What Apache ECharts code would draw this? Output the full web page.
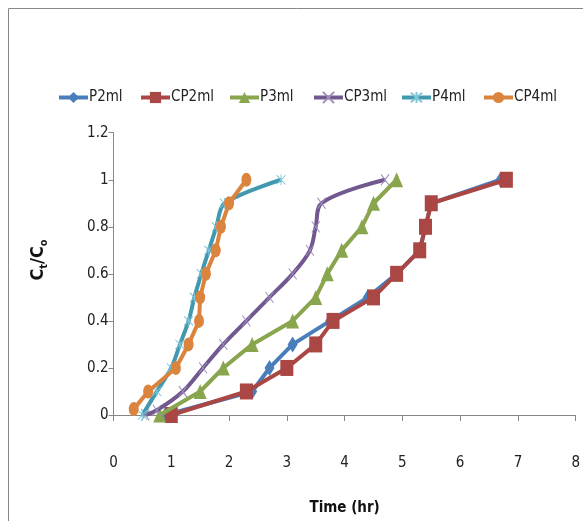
<!DOCTYPE html>
<html>
<head>
<meta charset="utf-8">
<script src="https://cdn.jsdelivr.net/npm/echarts@6/dist/echarts.min.js"></script>
<style>
html,body{margin:0;padding:0;background:#fff;}
#chart{width:583px;height:521px;}
</style>
</head>
<body>
<div id="chart"></div>
<script>
var seriesNames = ['P2ml', 'CP2ml', 'P3ml', 'CP3ml', 'P4ml', 'CP4ml'];
var xTicks = [0, 1, 2, 3, 4, 5, 6, 7, 8];
var yTicks = [0, 0.2, 0.4, 0.6, 0.8, 1, 1.2];

var p2mlX  = [0.9, 2.4, 2.7, 3.1, 3.75, 4.4, 4.9, 5.3, 5.4, 5.5, 6.7];
var p2mlY  = [0, 0.1, 0.2, 0.3, 0.4, 0.5, 0.6, 0.7, 0.8, 0.9, 1.0];
var cp2mlX = [1.0, 2.3, 3.0, 3.5, 3.8, 4.5, 4.9, 5.3, 5.4, 5.5, 6.8];
var cp2mlY = [0, 0.1, 0.2, 0.3, 0.4, 0.5, 0.6, 0.7, 0.8, 0.9, 1.0];
var p3mlX  = [0.8, 1.5, 1.9, 2.4, 3.1, 3.5, 3.7, 3.95, 4.3, 4.5, 4.9];
var p3mlY  = [0, 0.1, 0.2, 0.3, 0.4, 0.5, 0.6, 0.7, 0.8, 0.9, 1.0];
var cp3mlX = [0.55, 0.75, 1.2, 1.55, 1.9, 2.3, 2.7, 3.1, 3.4, 3.5, 3.6, 4.7];
var cp3mlY = [0, 0.02, 0.1, 0.2, 0.3, 0.4, 0.5, 0.6, 0.7, 0.8, 0.9, 1.0];
var p4mlX  = [0.5, 0.75, 1.0, 1.15, 1.3, 1.4, 1.52, 1.65, 1.78, 1.92, 2.9];
var p4mlY  = [0, 0.1, 0.2, 0.3, 0.4, 0.5, 0.6, 0.7, 0.8, 0.9, 1.0];
var cp4mlX = [0.35, 0.6, 1.08, 1.3, 1.48, 1.5, 1.6, 1.77, 1.86, 2.0, 2.3];
var cp4mlY = [0.025, 0.1, 0.2, 0.3, 0.4, 0.5, 0.6, 0.7, 0.8, 0.9, 1.0];

function pairs(xs, ys) { return xs.map(function (x, i) { return [x, ys[i]]; }); }

var FONT = "'DejaVu Sans Condensed', 'Liberation Sans', sans-serif";
var colors = ['#4A7EBB', '#AA4643', '#89A54E', '#71588F', '#4198AF', '#DB843D'];
var xPath = 'path://M0,0L10,10M10,0L0,10';
var starPath = 'path://M0,0L10,10M10,0L0,10M5,-1L5,11';

var chart = echarts.init(document.getElementById('chart'), null, {renderer: 'canvas'});

var legendLefts = [52, 134, 223, 307, 395, 477];
var legends = seriesNames.map(function (n, i) {
  return {
    data: [n], left: legendLefts[i], top: 85, itemWidth: 29, itemHeight: 14, itemGap: 2,
    lineStyle: {width: 4},
    textStyle: {fontFamily: FONT, fontSize: 15, color: '#222', padding: [0, 0, 0, -4]}
  };
});

function mk(name, xs, ys, idx, symbol, size, smooth, markerStyle) {
  return {
    name: name, type: 'line', data: pairs(xs, ys),
    symbol: symbol, symbolSize: size, smooth: smooth,
    lineStyle: {width: 4, color: colors[idx]},
    itemStyle: markerStyle || {color: colors[idx]},
    color: colors[idx],
    showAllSymbol: true,
    z: 2 + idx
  };
}

var option = {
  animation: false,
  backgroundColor: '#fff',
  color: colors,
  legend: legends,
  grid: {left: 113.5, right: 6.5, top: 132.7, bottom: 96.7, containLabel: false},
  xAxis: {
    type: 'value', min: 0, max: 8, interval: 1,
    name: 'Time (hr)', nameLocation: 'middle', nameGap: 86,
    nameTextStyle: {fontFamily: FONT, fontSize: 15, fontWeight: 'bold', color: '#111'},
    axisLine: {show: true, lineStyle: {color: '#868686', width: 1}},
    axisTick: {show: true, length: 6, lineStyle: {color: '#868686'}},
    splitLine: {show: false},
    axisLabel: {margin: 41, fontFamily: FONT, fontSize: 15, color: '#222',
      formatter: function (v) { return xTicks.indexOf(v) >= 0 ? String(v) : ''; }}
  },
  yAxis: {
    type: 'value', min: 0, max: 1.2, interval: 0.2,
    axisLine: {show: true, lineStyle: {color: '#868686', width: 1}},
    axisTick: {show: true, length: 5, lineStyle: {color: '#868686'}},
    splitLine: {show: false},
    axisLabel: {margin: 5, fontFamily: FONT, fontSize: 15, color: '#222',
      formatter: function (v) {
        var r = Math.round(v * 10) / 10;
        return yTicks.indexOf(r) >= 0 ? String(r) : '';
      }}
  },
  graphic: [
    {type: 'line', shape: {x1: 8.5, y1: 8.5, x2: 600, y2: 8.5}, style: {stroke: '#888', lineWidth: 1}, silent: true},
    {type: 'line', shape: {x1: 8.5, y1: 8.5, x2: 8.5, y2: 600}, style: {stroke: '#888', lineWidth: 1}, silent: true},
    {type: 'text', x: 37, y: 260, rotation: Math.PI / 2, silent: true,
      style: {
        text: '{a|C}{s|t}{a|/C}{s|o}', align: 'center', verticalAlign: 'middle',
        rich: {
          a: {fontFamily: FONT, fontSize: 18, fontWeight: 'bold', fill: '#111', verticalAlign: 'bottom', lineHeight: 20},
          s: {fontFamily: FONT, fontSize: 11, fontWeight: 'bold', fill: '#111', verticalAlign: 'bottom', lineHeight: 14, padding: [0, 0, -3, 0]}
        }
      }}
  ],
  series: [
    mk('P2ml', p2mlX, p2mlY, 0, 'diamond', [10, 16], false),
    mk('CP2ml', cp2mlX, cp2mlY, 1, 'rect', [13, 16], false),
    mk('P3ml', p3mlX, p3mlY, 2, 'triangle', [13, 15], false),
    mk('CP3ml', cp3mlX, cp3mlY, 3, xPath, [8, 11], 0.35,
       {color: 'rgba(0,0,0,0)', borderColor: '#9E8CBB', borderWidth: 1}),
    mk('P4ml', p4mlX, p4mlY, 4, starPath, [9, 11], 0.3,
       {color: 'rgba(0,0,0,0)', borderColor: '#7FC6D9', borderWidth: 1}),
    mk('CP4ml', cp4mlX, cp4mlY, 5, 'circle', [10, 14], false)
  ]
};
chart.setOption(option);
</script>
</body>
</html>
